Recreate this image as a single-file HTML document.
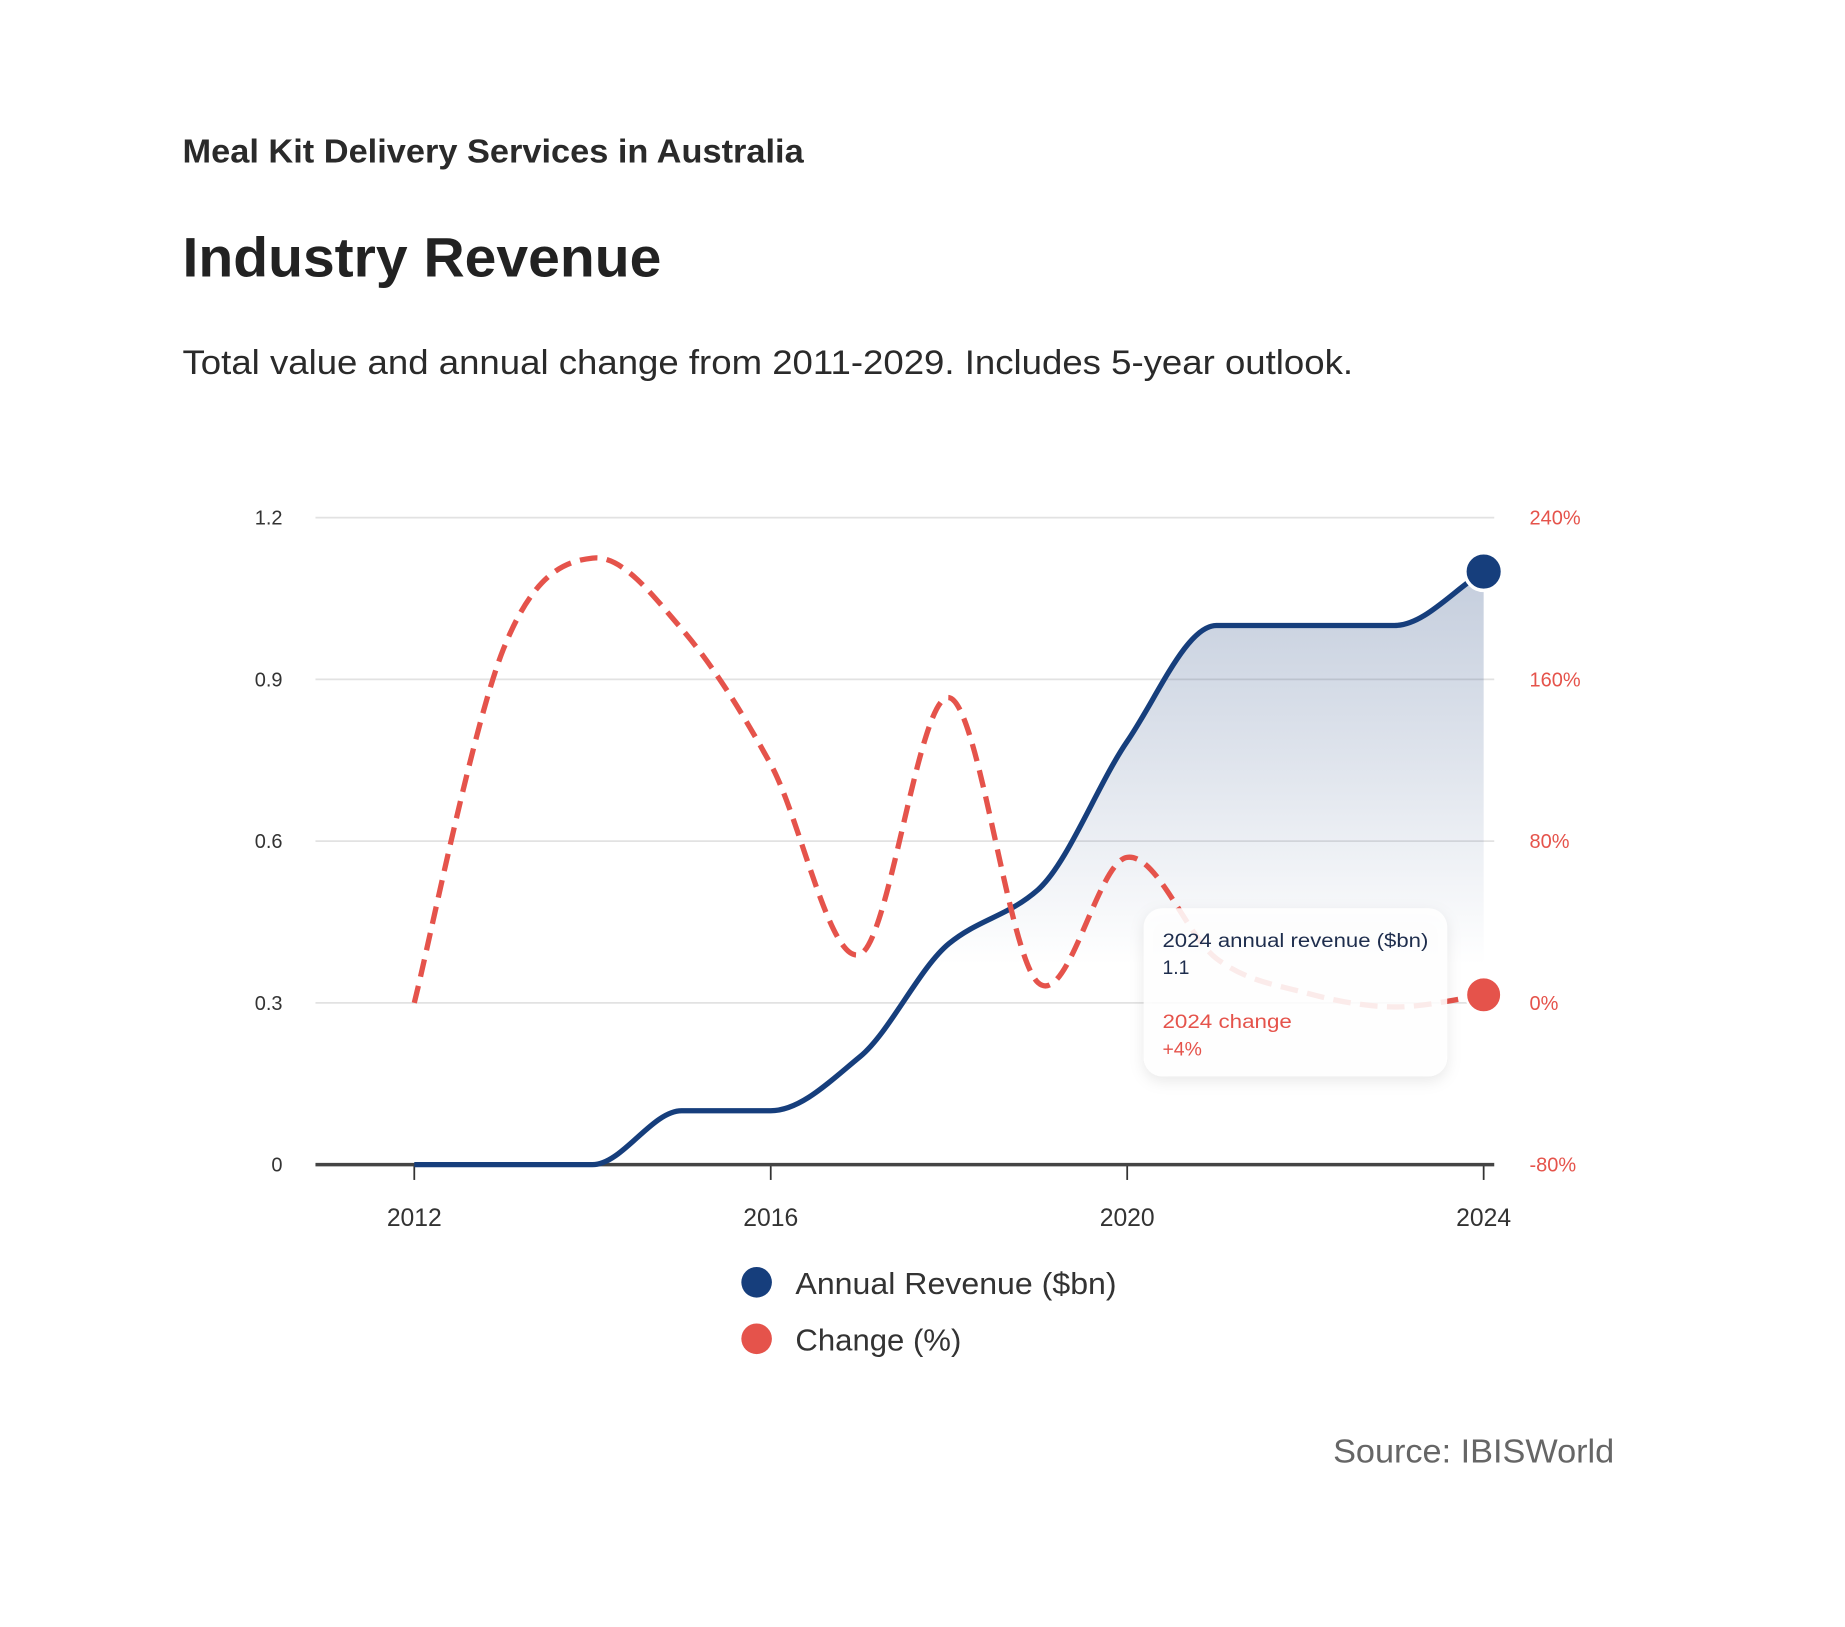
<!DOCTYPE html>
<html><head><meta charset="utf-8"><style>
html,body{margin:0;padding:0;background:#fff;}
svg{display:block;font-family:"Liberation Sans",sans-serif;}
</style></head><body>
<svg id="chart" width="1845" height="1627" viewBox="0 0 1568 1383" xmlns="http://www.w3.org/2000/svg">
<defs>
<linearGradient id="ag" x1="0" y1="480" x2="0" y2="820" gradientUnits="userSpaceOnUse">
<stop offset="0" stop-color="#1a3e7a" stop-opacity="0.26"/>
<stop offset="0.45" stop-color="#1a3e7a" stop-opacity="0.15"/>
<stop offset="1" stop-color="#1a3e7a" stop-opacity="0"/>
</linearGradient>
<filter id="sh" x="-20%" y="-20%" width="140%" height="150%"><feDropShadow dx="0" dy="4" stdDeviation="6" flood-color="#000" flood-opacity="0.10"/></filter>
</defs>
<text x="155" y="138" font-size="28" font-weight="bold" fill="#2a2a2a" textLength="528" lengthAdjust="spacingAndGlyphs">Meal Kit Delivery Services in Australia</text>
<text x="155" y="235" font-size="47" font-weight="bold" fill="#222" textLength="407" lengthAdjust="spacingAndGlyphs">Industry Revenue</text>
<text x="155" y="318" font-size="29" fill="#2a2a2a" textLength="995" lengthAdjust="spacingAndGlyphs">Total value and annual change from 2011-2029. Includes 5-year outlook.</text>
<g id="grid"></g>
<g id="plot"></g>
<g id="tooltip">
<rect x="972" y="772" width="258" height="143" rx="16" fill="#fff" fill-opacity="0.88" filter="url(#sh)"/>
<text x="988" y="805" font-size="16.5" fill="#1e2d4d" textLength="226" lengthAdjust="spacingAndGlyphs">2024 annual revenue ($bn)</text>
<text x="988" y="828" font-size="16.5" fill="#1e2d4d">1.1</text>
<text x="988" y="874" font-size="16.5" fill="#e5534b" textLength="110" lengthAdjust="spacingAndGlyphs">2024 change</text>
<text x="988" y="897" font-size="16.5" fill="#e5534b">+4%</text>
</g>
<g id="points"></g>
<g>
<g><circle cx="643" cy="1090" r="13" fill="#163e7c"/><text x="676" y="1100" font-size="26" fill="#333" textLength="273" lengthAdjust="spacingAndGlyphs">Annual Revenue ($bn)</text></g>
<g><circle cx="643" cy="1138" r="13" fill="#e5534b"/><text x="676" y="1148" font-size="26" fill="#333" textLength="141" lengthAdjust="spacingAndGlyphs">Change (%)</text></g>
</g>
<text x="1133" y="1243" font-size="28" fill="#666" textLength="239" lengthAdjust="spacingAndGlyphs">Source: IBISWorld</text>
</svg>
<script>
const years = [2012,2013,2014,2015,2016,2017,2018,2019,2020,2021,2022,2023,2024];
const revenue = [0,0,0,0.1,0.1,0.2,0.41,0.51,0.785,1.0,1.0,1.0,1.1];
const change = [0,175,220,185,118,24,151,10,72,22,5,-2,4];
const leftTicks = [0,0.3,0.6,0.9,1.2];
const rightTicks = ['-80%','0%','80%','160%','240%'];
const xTicks = [2012,2016,2020,2024];

const NS='http://www.w3.org/2000/svg';
const X0=268,X1=1270,Ytop=440,Ybot=990;
const xs=y=>352+(y-2012)*(1261-352)/12;
const yl=v=>Ybot-(v/1.2)*(Ybot-Ytop);
const yr=p=>Ybot-((p+80)/320)*(Ybot-Ytop);
function mk(tag,attrs,parent){const e=document.createElementNS(NS,tag);for(const k in attrs)e.setAttribute(k,attrs[k]);parent.appendChild(e);return e;}
const grid=document.getElementById('grid'),plot=document.getElementById('plot'),pts=document.getElementById('points');
leftTicks.forEach((t,i)=>{
  const y=yl(t);
  if(i>0){const g=mk('line',{x1:X0,x2:X1,y1:y,y2:y,stroke:'#e2e2e2','stroke-width':1.5},grid);
  
  }
  const l=mk('text',{x:240,y:y+6,'font-size':17,fill:'#333','text-anchor':'end'},grid);l.textContent=String(t);
  
  
  const r=mk('text',{x:1300,y:y+6,'font-size':17,fill:'#e5534b'},grid);r.textContent=rightTicks[i];
  
  
});
xTicks.forEach(t=>{
  const x=xs(t);
  mk('line',{x1:x,x2:x,y1:Ybot,y2:1003,stroke:'#333','stroke-width':1.5},grid);
  const l=mk('text',{x:x,y:1042,'font-size':21,fill:'#333','text-anchor':'middle'},grid);l.textContent=String(t);
  
  
});
function monotone(P){
  const n=P.length,d=[],m=[];
  for(let i=0;i<n-1;i++)d.push((P[i+1][1]-P[i][1])/(P[i+1][0]-P[i][0]));
  for(let i=0;i<n;i++){
    if(i===0)m.push(d[0]);else if(i===n-1)m.push(d[n-2]);
    else{ if(d[i-1]*d[i]<=0)m.push(0);else{const h0=P[i][0]-P[i-1][0],h1=P[i+1][0]-P[i][0];m.push(3*(h0+h1)/((2*h1+h0)/d[i-1]+(h1+2*h0)/d[i]));}}
  }
  let s='M'+P[0][0]+','+P[0][1];
  for(let i=0;i<n-1;i++){const h=(P[i+1][0]-P[i][0])/3;
    s+=` C${P[i][0]+h},${P[i][1]+m[i]*h} ${P[i+1][0]-h},${P[i+1][1]-m[i+1]*h} ${P[i+1][0]},${P[i+1][1]}`;}
  return s;
}
function cardinal(P){
  let s='M'+P[0][0]+','+P[0][1];
  for(let i=0;i<P.length-1;i++){
    const p0=P[Math.max(i-1,0)],p1=P[i],p2=P[i+1],p3=P[Math.min(i+2,P.length-1)];
    const t=0.5/3*2;
    const c1=[p1[0]+(p2[0]-p0[0])*t/2,p1[1]+(p2[1]-p0[1])*t/2];
    const c2=[p2[0]-(p3[0]-p1[0])*t/2,p2[1]-(p3[1]-p1[1])*t/2];
    s+=` C${c1[0]},${c1[1]} ${c2[0]},${c2[1]} ${p2[0]},${p2[1]}`;
  }
  return s;
}
const rp=years.map((y,i)=>[xs(y),yl(revenue[i])]);
const cp=years.map((y,i)=>[xs(y),yr(change[i])]);
const rpath=monotone(rp);
const area=mk('path',{d:rpath+` L${rp[rp.length-1][0]},${Ybot} L${rp[0][0]},${Ybot} Z`,fill:'url(#ag)'},plot);


const axis=mk('line',{x1:X0,x2:X1,y1:Ybot,y2:Ybot,stroke:'#444','stroke-width':3},plot);


const rl=mk('path',{d:rpath,fill:'none',stroke:'#163e7c','stroke-width':4.5,'stroke-linejoin':'round'},plot);


const cl=mk('path',{d:cardinal(cp),fill:'none',stroke:'#e5534b','stroke-width':4.5,'stroke-dasharray':'15 8'},plot);


const last=years.length-1;
const bp=mk('circle',{cx:xs(years[last]),cy:yl(revenue[last]),r:16,fill:'#163e7c',stroke:'#fff','stroke-width':3},pts);


const rpt=mk('circle',{cx:xs(years[last]),cy:yr(change[last]),r:15,fill:'#e5534b',stroke:'#fff','stroke-width':2},pts);


</script>
</body></html>
